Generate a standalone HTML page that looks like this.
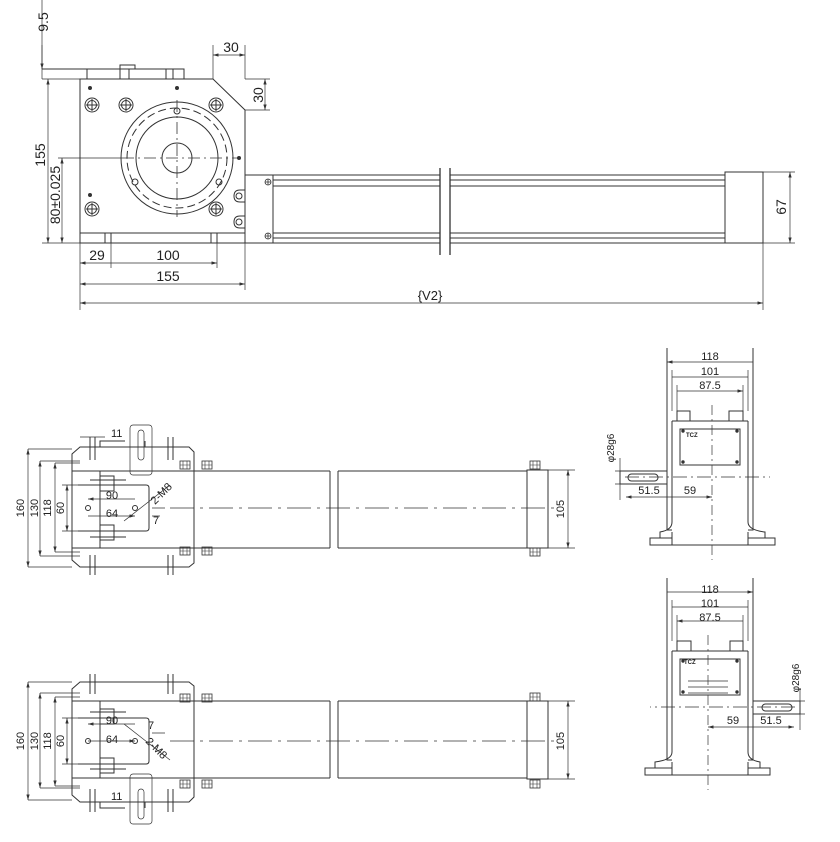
<!DOCTYPE html>
<html><head><meta charset="utf-8"><style>
html,body{margin:0;padding:0;background:#fff}
svg{display:block}
text{font-family:"Liberation Sans",sans-serif;fill:#222}
</style></head><body>
<svg width="840" height="842" viewBox="0 0 840 842" xmlns="http://www.w3.org/2000/svg">
<defs>
<marker id="a" viewBox="0 0 10 6" refX="10" refY="3" markerWidth="8" markerHeight="5" orient="auto-start-reverse"><path d="M0,0L10,3L0,6z" fill="#333"/></marker>
<g id="bolt"><circle r="7" fill="none" stroke="#333"/><circle r="4.5" fill="none" stroke="#333"/><path d="M-6,0H6M0,-6V6" stroke="#333"/></g>
<g id="scr"><circle r="3" fill="none" stroke="#333" stroke-width="0.8"/><path d="M-3,0H3M0,-3V3" stroke="#333" stroke-width="0.8"/></g>
<g id="nut"><rect x="-5" y="-4" width="10" height="8" fill="none" stroke="#333" stroke-width="0.8"/><path d="M-5,0H5M-2,-4V4M2,-4V4" stroke="#333" stroke-width="0.6"/></g>

<g id="side" fill="none" stroke="#333" stroke-width="1">
<path d="M80,447H189L194,452V563L189,567H80L72,560V454Z"/>
<path d="M72,471H189M72,548H189M100,471V548"/>
<path d="M100,447V441H125M145,441V447"/>
<path d="M90,437V460M95,437V460M168,437V460M173,437V460"/>
<path d="M90,555V575M95,555V575M168,555V575M173,555V575"/>
<path d="M78,485H146Q149,485 149,488V528Q149,531 146,531H78"/>
<rect x="100" y="476" width="14" height="15"/><rect x="100" y="525" width="14" height="15"/>
<path d="M90,480H126M90,537H126"/>
<circle cx="88" cy="508" r="2.5"/><circle cx="135" cy="508" r="2.5"/>
<use href="#nut" x="185" y="465"/><use href="#nut" x="207" y="465"/>
<use href="#nut" x="185" y="551"/><use href="#nut" x="207" y="551"/>
<path d="M189,471H330M189,548H330M330,471V548M338,471V548M338,471H527M338,548H527"/>
<rect x="527" y="470" width="21" height="78"/>
<use href="#nut" x="535" y="465"/><use href="#nut" x="535" y="552"/>
<path d="M170,508H560" stroke-dasharray="24,6,3,6" stroke-width="0.8"/>
</g>

<g id="endv" fill="none" stroke="#333" stroke-width="1">
<path d="M667,348V530H672M753,348V530H748"/>
<path d="M667,362H753M672,377H748M677,391H743" marker-start="url(#a)" marker-end="url(#a)" stroke-width="0.7"/>
<path d="M672,370V411M748,370V411M677,385V421M743,385V421" stroke-width="0.7"/>
<rect x="677" y="411" width="13" height="10"/><rect x="729" y="411" width="14" height="10"/>
<path d="M672,421H748M672,421V522Q672,530 660,532V538H650V545H775V538H765V532Q748,530 748,522V421"/>
<path d="M660,538H672M748,538H765M672,532V545M748,532V545"/>
<rect x="680" y="429" width="60" height="36"/>
<rect x="620" y="471" width="47" height="13"/>
<rect x="628" y="474" width="30" height="7" rx="3.5"/>
<path d="M625,477H770" stroke-dasharray="14,4,2,4" stroke-width="0.8"/>
<path d="M712,405V560" stroke-dasharray="10,4,2,4" stroke-width="0.7"/>
<path d="M615,471H628M615,484H628M620,458V500" stroke-width="0.7"/>
<path d="M626,497H667M667,497H712" marker-start="url(#a)" marker-end="url(#a)" stroke-width="0.7"/>
<circle cx="683" cy="431" r="1.2" fill="#333"/><circle cx="737" cy="431" r="1.2" fill="#333"/><circle cx="683" cy="462" r="1.2" fill="#333"/><circle cx="737" cy="462" r="1.2" fill="#333"/>
</g>
</defs>

<g fill="none" stroke="#333" stroke-width="1">
<path d="M80,79H213L245,110V243H80Z"/>
<path d="M42,69H184V79M87,69V79M120,69V79M129,69V79M166,69V79M173,69V79"/>
<path d="M120,69V65H135V69" />
<path d="M80,233H245M105,233V243M111,233V243M211,233V243M217,233V243"/>
<circle cx="177" cy="158" r="56"/>
<circle cx="177" cy="158" r="50" stroke-dasharray="8,4"/>
<circle cx="177" cy="158" r="41"/>
<circle cx="177" cy="158" r="15"/>
<path d="M177,100V217M122,158H240" stroke-dasharray="12,4,2,4" stroke-width="0.8"/>
<use href="#bolt" x="92" y="105"/><use href="#bolt" x="126" y="105"/><use href="#bolt" x="216" y="105"/>
<use href="#bolt" x="92" y="209"/><use href="#bolt" x="216" y="209"/>
<circle cx="135" cy="182" r="3"/><circle cx="219" cy="182" r="3"/><circle cx="177" cy="111" r="3"/>
<circle cx="90" cy="88" r="1.5" fill="#333"/><circle cx="177" cy="88" r="1.5" fill="#333"/><circle cx="239" cy="158" r="1.5" fill="#333"/><circle cx="90" cy="195" r="1.5" fill="#333"/>
<path d="M245,190H240Q234,190 234,196Q234,202 240,202H245M245,216H240Q234,216 234,222Q234,228 240,228H245"/>
<circle cx="239" cy="196" r="3"/><circle cx="239" cy="222" r="3"/>
<rect x="245" y="175" width="28" height="68"/>
<use href="#scr" x="268" y="182"/><use href="#scr" x="268" y="236"/>
<path d="M273,175H440M273,180H440M273,186H440M273,233H440M273,238H440M273,243H440"/>
<path d="M450,175H725M450,180H725M450,186H725M450,233H725M450,238H725M450,243H725"/>
<path d="M440,168V255M450,168V255" stroke-width="1.3"/>
<rect x="725" y="172" width="38" height="71"/>
<g stroke-width="0.7">
<path d="M42,0V69M42,79H80M42,79V60"/>
<path d="M42,45V69" marker-end="url(#a)"/>
<path d="M213,45V79M245,45V79"/>
<path d="M213,55H245" marker-start="url(#a)" marker-end="url(#a)"/>
<path d="M245,110H270M245,79H270"/>
<path d="M265,79V110" marker-start="url(#a)" marker-end="url(#a)"/>
<path d="M48,79V243" marker-start="url(#a)" marker-end="url(#a)"/>
<path d="M42,243H80M58,158H122"/>
<path d="M62,158V243" marker-start="url(#a)" marker-end="url(#a)"/>
<path d="M80,243V310M111,243V268M217,243V268M245,243V290M763,243V310"/>
<path d="M80,263H111M111,263H217" marker-start="url(#a)" marker-end="url(#a)"/>
<path d="M80,284H245" marker-start="url(#a)" marker-end="url(#a)"/>
<path d="M80,303H763" marker-start="url(#a)" marker-end="url(#a)"/>
<path d="M763,172H795M763,243H795"/>
<path d="M790,172V243" marker-start="url(#a)" marker-end="url(#a)"/>
</g>
</g>
<g font-size="14">
<text x="48" y="22" transform="rotate(-90 48 22)" text-anchor="middle">9.5</text>
<text x="231" y="52" text-anchor="middle">30</text>
<text x="263" y="95" transform="rotate(-90 263 95)" text-anchor="middle">30</text>
<text x="45" y="155" transform="rotate(-90 45 155)" text-anchor="middle">155</text>
<text x="60" y="195" transform="rotate(-90 60 195)" text-anchor="middle">80±0.025</text>
<text x="97" y="260" text-anchor="middle">29</text>
<text x="168" y="260" text-anchor="middle">100</text>
<text x="168" y="281" text-anchor="middle">155</text>
<text x="430" y="300" text-anchor="middle" font-size="13">{V2}</text>
<text x="786" y="207" transform="rotate(-90 786 207)" text-anchor="middle">67</text>
</g>

<use href="#side"/>
<g fill="none" stroke="#333" stroke-width="0.7">
<rect x="130" y="425" width="22" height="50" rx="3"/><rect x="138" y="430" width="6" height="30" rx="3"/>
<path d="M28,449H72M28,567H72"/><path d="M28,449V567" marker-start="url(#a)" marker-end="url(#a)"/>
<path d="M40,461H80M40,556H80"/><path d="M40,461V556" marker-start="url(#a)" marker-end="url(#a)"/>
<path d="M55,463H80M55,552H80"/><path d="M55,463V552" marker-start="url(#a)" marker-end="url(#a)"/>
<path d="M62,485H78M62,531H78"/><path d="M67,485V531" marker-start="url(#a)" marker-end="url(#a)"/>
<path d="M88,499H135M88,516H135" marker-start="url(#a)" marker-end="url(#a)"/>
<path d="M80,437H105"/>
<path d="M124,521L170,485M152,508H165M152,516H160"/>
<path d="M548,470H575M548,548H575"/><path d="M568,470V548" marker-start="url(#a)" marker-end="url(#a)"/>
</g>
<g font-size="11">
<text x="24" y="508" transform="rotate(-90 24 508)" text-anchor="middle">160</text>
<text x="38" y="508" transform="rotate(-90 38 508)" text-anchor="middle">130</text>
<text x="51" y="508" transform="rotate(-90 51 508)" text-anchor="middle">118</text>
<text x="64" y="508" transform="rotate(-90 64 508)" text-anchor="middle">60</text>
<text x="112" y="499" text-anchor="middle">90</text>
<text x="112" y="517" text-anchor="middle">64</text>
<text x="153" y="524">7</text>
<text x="111" y="437">11</text>
<text x="155" y="505" transform="rotate(-45 155 505)">2-M8</text>
<text x="564" y="509" transform="rotate(-90 564 509)" text-anchor="middle">105</text>
</g>

<use href="#side" transform="translate(0,1249) scale(1,-1)"/>
<g fill="none" stroke="#333" stroke-width="0.7">
<rect x="130" y="774" width="22" height="50" rx="3"/><rect x="138" y="789" width="6" height="30" rx="3"/>
<path d="M28,682H72M28,800H72"/><path d="M28,682V800" marker-start="url(#a)" marker-end="url(#a)"/>
<path d="M40,693H80M40,788H80"/><path d="M40,693V788" marker-start="url(#a)" marker-end="url(#a)"/>
<path d="M55,697H80M55,786H80"/><path d="M55,697V786" marker-start="url(#a)" marker-end="url(#a)"/>
<path d="M62,718H78M62,764H78"/><path d="M67,718V764" marker-start="url(#a)" marker-end="url(#a)"/>
<path d="M88,724H135M88,741H135" marker-start="url(#a)" marker-end="url(#a)"/>
<path d="M80,802H120"/>
<path d="M124,724L170,760M152,733H165"/>
<path d="M548,701H575M548,779H575"/><path d="M568,701V779" marker-start="url(#a)" marker-end="url(#a)"/>
</g>
<g font-size="11">
<text x="24" y="741" transform="rotate(-90 24 741)" text-anchor="middle">160</text>
<text x="38" y="741" transform="rotate(-90 38 741)" text-anchor="middle">130</text>
<text x="51" y="741" transform="rotate(-90 51 741)" text-anchor="middle">118</text>
<text x="64" y="741" transform="rotate(-90 64 741)" text-anchor="middle">60</text>
<text x="112" y="724" text-anchor="middle">90</text>
<text x="112" y="743" text-anchor="middle">64</text>
<text x="148" y="729">7</text>
<text x="111" y="800">11</text>
<text x="145" y="742" transform="rotate(45 145 742)">2-M8</text>
<text x="564" y="741" transform="rotate(-90 564 741)" text-anchor="middle">105</text>
</g>

<use href="#endv"/>
<use href="#endv" transform="translate(1420,230) scale(-1,1)"/>
<g fill="none" stroke="#333" stroke-width="0.7">
<path d="M688,681H728M688,687H728M688,693H728"/>
</g>
<g font-size="11">
<text x="710" y="360" text-anchor="middle">118</text>
<text x="710" y="375" text-anchor="middle">101</text>
<text x="710" y="389" text-anchor="middle">87.5</text>
<text x="686" y="437" font-size="6" font-weight="bold">TCZ</text>
<text x="614" y="448" transform="rotate(-90 614 448)" text-anchor="middle" font-size="10">φ28g6</text>
<text x="649" y="494" text-anchor="middle">51.5</text>
<text x="690" y="494" text-anchor="middle">59</text>
<text x="710" y="593" text-anchor="middle">118</text>
<text x="710" y="607" text-anchor="middle">101</text>
<text x="710" y="621" text-anchor="middle">87.5</text>
<text x="684" y="664" font-size="6" font-weight="bold">TCZ</text>
<text x="799" y="678" transform="rotate(-90 799 678)" text-anchor="middle" font-size="10">φ28g6</text>
<text x="771" y="724" text-anchor="middle">51.5</text>
<text x="733" y="724" text-anchor="middle">59</text>
</g>
</svg>
</body></html>
